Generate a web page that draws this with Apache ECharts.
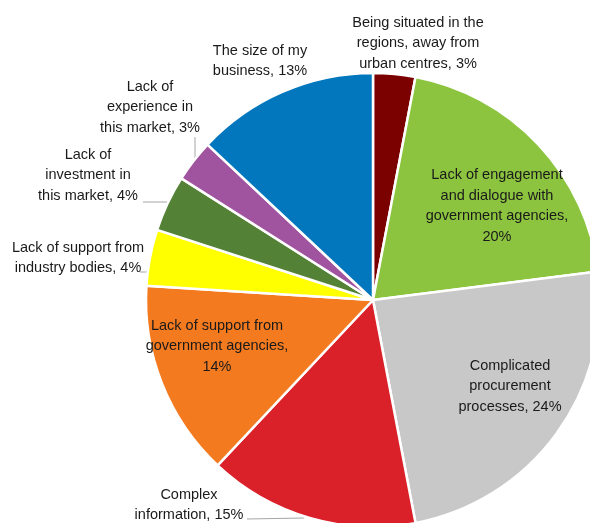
<!DOCTYPE html>
<html>
<head>
<meta charset="utf-8">
<script src="https://cdn.jsdelivr.net/npm/echarts@6/dist/echarts.min.js"></script>
<style>
  html, body { margin: 0; padding: 0; background: #fff; }
  #chart { width: 590px; height: 523px; }
</style>
</head>
<body>
<div id="chart"></div>
<script>
// Barrier categories (line breaks as drawn), clockwise from 12 o'clock
const categories = [
  'Being situated in the\nregions, away from\nurban centres',
  'Lack of engagement\nand dialogue with\ngovernment agencies',
  'Complicated\nprocurement\nprocesses',
  'Complex\ninformation',
  'Lack of support from\ngovernment agencies',
  'Lack of support from\nindustry bodies',
  'Lack of\ninvestment in\nthis market',
  'Lack of\nexperience in\nthis market',
  'The size of my\nbusiness'
];
// Share of respondents (%)
const values = [3, 20, 24, 15, 14, 4, 4, 3, 13];

const colors = ['#7b0000', '#8cc43f', '#c8c8c8', '#da2129', '#f47a20',
                '#ffff00', '#538135', '#a0549f', '#0277bd'];

// Label placement: centre of each text block and whether the value
// goes on its own line
const labelCentres = [
  [418, 43], [497, 206], [510, 386], [189, 505], [217, 346],
  [78, 258], [88, 175], [150, 107], [260, 61]
];
const valueOnNewLine = [false, true, false, false, true, false, false, false, false];
// Leader-line routes (slice edge -> text) for the small outside labels
const leaderRoutes = [
  null, null, null,
  [[304, 518], [275, 518.5], [247, 519]],
  null,
  [[151, 255], [147, 272], [140, 272]],
  [[168, 202], [155, 202], [143, 202]],
  [[195, 158], [195, 147], [195, 137]],
  null
];

const chart = echarts.init(document.getElementById('chart'));

chart.setOption({
  animation: false,
  backgroundColor: '#fff',
  series: [{
    type: 'pie',
    center: [373, 300],
    radius: 227,
    startAngle: 90,
    clockwise: true,
    avoidLabelOverlap: false,
    itemStyle: { borderColor: '#fff', borderWidth: 2.5 },
    label: {
      position: 'outside',
      fontFamily: 'Liberation Sans, Arial, sans-serif',
      fontSize: 14.5,
      lineHeight: 20.5,
      color: '#1a1a1a',
      align: 'center',
      formatter: p => p.name + ',' + (valueOnNewLine[p.dataIndex] ? '\n' : ' ') + p.value + '%'
    },
    labelLine: {
      show: true,
      length: 8,
      length2: 8,
      lineStyle: { color: '#a6a6a6', width: 1 }
    },
    labelLayout: p => {
      const out = {
        x: labelCentres[p.dataIndex][0],
        y: labelCentres[p.dataIndex][1],
        align: 'center',
        verticalAlign: 'middle'
      };
      if (leaderRoutes[p.dataIndex]) out.labelLinePoints = leaderRoutes[p.dataIndex];
      return out;
    },
    data: categories.map((name, i) => ({
      name: name,
      value: values[i],
      itemStyle: { color: colors[i] },
      labelLine: { show: leaderRoutes[i] !== null }
    }))
  }]
});
</script>
</body>
</html>
